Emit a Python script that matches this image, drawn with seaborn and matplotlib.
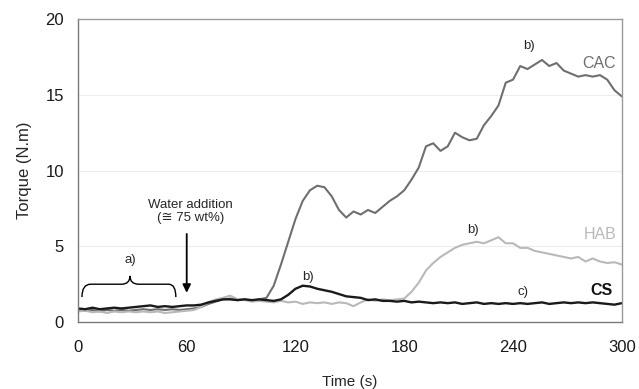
import numpy as np
import pandas as pd
import matplotlib
matplotlib.use("Agg")
import matplotlib.pyplot as plt
from matplotlib.path import Path
from matplotlib.patches import PathPatch
import seaborn as sns

time = list(range(0, 301, 4))

cac = [0.8, 0.75, 0.8, 0.7, 0.8, 0.75, 0.8, 0.75, 0.8, 0.85, 0.8, 0.85, 0.8, 0.85, 0.8,
       0.85, 0.9, 1.0, 1.2, 1.35, 1.5, 1.55, 1.45, 1.5, 1.4, 1.5, 1.6, 2.4, 3.8, 5.3,
       6.8, 8.0, 8.7, 9.0, 8.9, 8.3, 7.4, 6.9, 7.3, 7.1, 7.4, 7.2, 7.6, 8.0, 8.3,
       8.7, 9.4, 10.2, 11.6, 11.8, 11.3, 11.6, 12.5, 12.2, 12.0, 12.1, 13.0, 13.6, 14.3, 15.8,
       16.0, 16.9, 16.7, 17.0, 17.3, 16.9, 17.1, 16.6, 16.4, 16.2, 16.3, 16.2, 16.3, 16.0, 15.3,
       14.9]

hab = [0.7, 0.75, 0.65, 0.7, 0.6, 0.7, 0.65, 0.7, 0.65, 0.7, 0.65, 0.7, 0.6, 0.65, 0.7,
       0.75, 0.8, 1.0, 1.3, 1.5, 1.6, 1.75, 1.5, 1.45, 1.35, 1.4, 1.35, 1.3, 1.4, 1.3,
       1.35, 1.2, 1.3, 1.25, 1.3, 1.2, 1.3, 1.25, 1.05, 1.3, 1.5, 1.4, 1.5, 1.45, 1.5,
       1.55, 2.0, 2.6, 3.4, 3.9, 4.3, 4.6, 4.9, 5.1, 5.2, 5.3, 5.2, 5.4, 5.6, 5.2,
       5.2, 4.9, 4.9, 4.7, 4.6, 4.5, 4.4, 4.3, 4.2, 4.3, 4.0, 4.2, 4.0, 3.9, 3.95,
       3.8]

cs = [0.9, 0.85, 0.95, 0.85, 0.9, 0.95, 0.9, 0.95, 1.0, 1.05, 1.1, 1.0, 1.05, 1.0, 1.05,
      1.1, 1.1, 1.15, 1.3, 1.4, 1.5, 1.5, 1.45, 1.5, 1.45, 1.5, 1.45, 1.4, 1.5, 1.8,
      2.2, 2.4, 2.35, 2.2, 2.1, 2.0, 1.85, 1.7, 1.65, 1.6, 1.45, 1.5, 1.4, 1.4, 1.35,
      1.4, 1.3, 1.35, 1.3, 1.25, 1.3, 1.25, 1.3, 1.2, 1.25, 1.3, 1.2, 1.25, 1.2, 1.25,
      1.2, 1.25, 1.2, 1.25, 1.3, 1.2, 1.25, 1.3, 1.25, 1.3, 1.25, 1.3, 1.25, 1.2, 1.15,
      1.25]

series_names = ["CAC", "HAB", "CS"]
series_colors = {"CAC": "#6f6f6f", "HAB": "#b9b9b9", "CS": "#1a1a1a"}
x_ticks = [0, 60, 120, 180, 240, 300]
y_ticks = [0, 5, 10, 15, 20]

df = pd.concat([
    pd.DataFrame({"Time": time, "Torque": cac, "Sample": "CAC"}),
    pd.DataFrame({"Time": time, "Torque": hab, "Sample": "HAB"}),
    pd.DataFrame({"Time": time, "Torque": cs, "Sample": "CS"}),
])

sns.set_style("white")
plt.rcParams["font.family"] = ["Liberation Sans", "DejaVu Sans"]

fig = plt.figure(figsize=(6.39, 3.89), dpi=100)
ax = fig.add_axes([0.122, 0.172, 0.851, 0.779])

for y in [5, 10, 15]:
    ax.axhline(y, color="#ededed", lw=0.8, zorder=0)

for name, lw in zip(series_names, [1.5, 1.5, 1.7]):
    sns.lineplot(data=df[df["Sample"] == name], x="Time", y="Torque", color=series_colors[name],
                 lw=lw, ax=ax, legend=False)

ax.set_xlim(0, 300)
ax.set_ylim(0, 20)
ax.set_xticks(x_ticks)
ax.set_yticks(y_ticks)
ax.set_xticks([30, 90, 150, 210, 270], minor=True)
ax.set_yticks([2.5, 7.5, 12.5, 17.5], minor=True)
ax.tick_params(axis="both", which="both", direction="in", length=4, color="#808080",
               labelsize=12, labelcolor="#1a1a1a")
ax.tick_params(axis="x", pad=13)
ax.tick_params(axis="y", pad=10)
ax.set_xlabel("Time (s)", fontsize=11, labelpad=14)
ax.set_ylabel("Torque (N.m)", fontsize=12, labelpad=10)
for s in ["left", "bottom"]:
    ax.spines[s].set_color("#7a7a7a")
    ax.spines[s].set_linewidth(1.0)
for s in ["top", "right"]:
    ax.spines[s].set_color("#9a9a9a")
    ax.spines[s].set_linewidth(1.0)

# Series labels
ax.text(297, 17.1, "CAC", color="#6f6f6f", fontsize=11.5, ha="right", va="center")
ax.text(297, 5.75, "HAB", color="#b9b9b9", fontsize=11.5, ha="right", va="center")
ax.text(295, 2.1, "CS", color="#111111", fontsize=11.5, ha="right", va="center", fontweight="bold")

# Phase labels
ax.text(249, 18.2, "b)", fontsize=9.5, ha="center", va="center")
ax.text(218, 6.1, "b)", fontsize=9.5, ha="center", va="center")
ax.text(127, 3.0, "b)", fontsize=9.5, ha="center", va="center")
ax.text(245.5, 2.0, "c)", fontsize=9.5, ha="center", va="center")
ax.text(29, 4.1, "a)", fontsize=9.5, ha="center", va="center")

# Water addition
ax.text(62, 7.3, "Water addition\n(\u2245 75 wt%)", fontsize=9.5, ha="center", va="center",
        linespacing=1.2)
ax.annotate("", xy=(60, 1.75), xytext=(60, 6.0),
            arrowprops=dict(arrowstyle="-|>", color="black", lw=1.3, mutation_scale=12))

# Brace
verts = [(2.2, 1.65), (2.2, 2.5), (7, 2.5), (24, 2.5), (28.7, 2.5), (28.7, 3.05),
         (28.7, 2.5), (33.5, 2.5), (50, 2.5), (54, 2.5), (54, 1.65)]
codes = [Path.MOVETO, Path.CURVE3, Path.CURVE3, Path.LINETO, Path.CURVE3, Path.CURVE3,
         Path.CURVE3, Path.CURVE3, Path.LINETO, Path.CURVE3, Path.CURVE3]
ax.add_patch(PathPatch(Path(verts, codes), fill=False, lw=1.0, color="black"))

fig.savefig("out.png", dpi=100)
